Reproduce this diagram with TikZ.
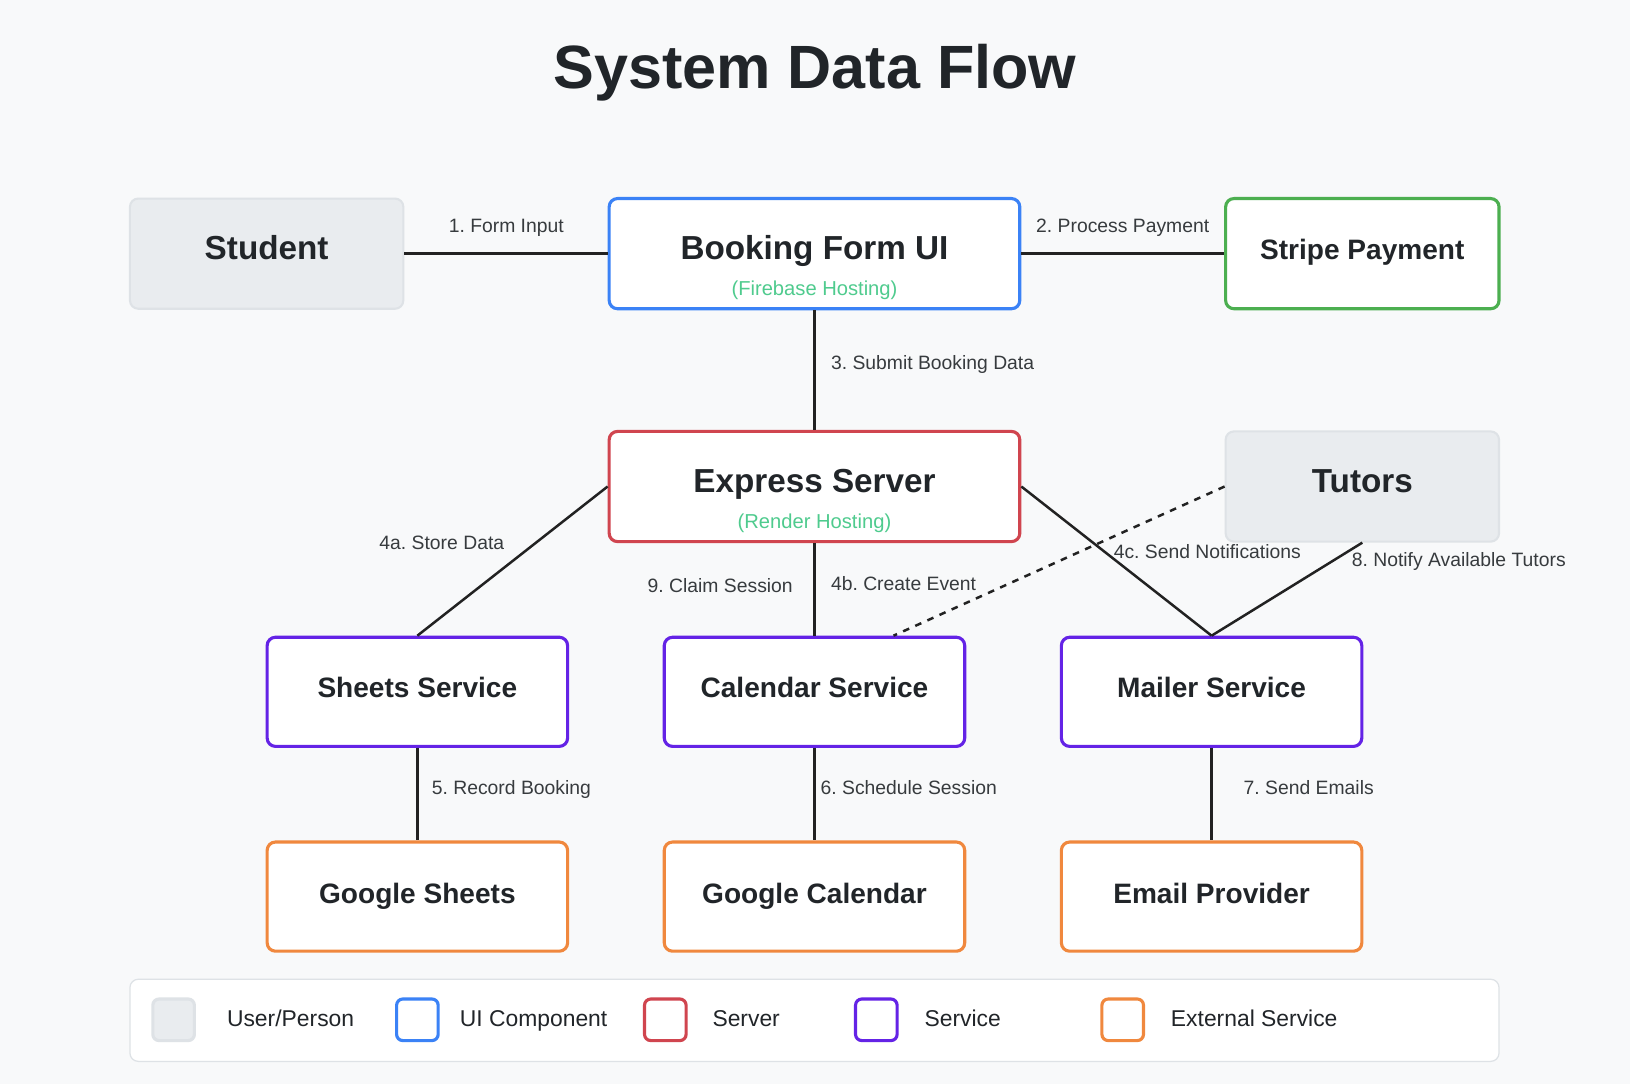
\documentclass[tikz,border=0pt]{standalone}
\usepackage{fontspec}
\setmainfont{Liberation Sans}
\usepackage{tikz}
\frenchspacing

\definecolor{bgcol}{HTML}{F8F9FA}
\definecolor{usrfill}{HTML}{E9ECEF}
\definecolor{usrline}{HTML}{DEE2E6}
\definecolor{uiblue}{HTML}{3B82F6}
\definecolor{paygreen}{HTML}{4CAF50}
\definecolor{srvred}{HTML}{D0454F}
\definecolor{svcpurple}{HTML}{6423E6}
\definecolor{extorange}{HTML}{F0883E}
\definecolor{hostgreen}{HTML}{4FCB8E}
\definecolor{txt}{HTML}{212529}
\definecolor{lnk}{HTML}{222222}

\begin{document}
\begin{tikzpicture}[x=0.5pt,y=-0.5pt,
  user/.style={rounded corners=4pt,fill=usrfill,draw=usrline,line width=1pt,minimum width=131.5pt,minimum height=53pt},
  ui/.style={rounded corners=4pt,fill=white,draw=uiblue,line width=1.5pt,minimum width=197.5pt,minimum height=53pt},
  srv/.style={rounded corners=4pt,fill=white,draw=srvred,line width=1.5pt,minimum width=197.5pt,minimum height=53pt},
  pay/.style={rounded corners=4pt,fill=white,draw=paygreen,line width=1.5pt,minimum width=131.5pt,minimum height=53pt},
  svc/.style={rounded corners=4pt,fill=white,draw=svcpurple,line width=1.5pt,minimum width=144.5pt,minimum height=52.5pt},
  ext/.style={rounded corners=4pt,fill=white,draw=extorange,line width=1.5pt,minimum width=144.5pt,minimum height=52.5pt},
  big/.style={font=\bfseries\fontsize{16}{19}\selectfont,text=txt,text height=11.5pt,text depth=0pt,inner sep=0pt},
  mid/.style={font=\bfseries\fontsize{13.5}{16}\selectfont,text=txt,text height=9.7pt,text depth=0pt,inner sep=0pt},
  host/.style={font=\fontsize{9.7}{12}\selectfont,text=hostgreen,text height=7pt,text depth=0pt,inner sep=0pt},
  lbl/.style={font=\fontsize{9.3}{11}\selectfont,text=txt!90,text height=6.7pt,text depth=0pt,inner sep=0pt},
  key/.style={font=\fontsize{11}{13}\selectfont,text=txt,text height=7.9pt,text depth=0pt,inner sep=0pt,anchor=west},
  swatch/.style={rounded corners=3pt,line width=1.5pt,minimum size=20pt,inner sep=0pt},
  link/.style={draw=lnk,line width=1.2pt}]

\useasboundingbox (0,0) rectangle (1568,1043);
\fill[bgcol] (0,0) rectangle (1568,1043);

\node[font=\bfseries\fontsize{29.4}{34}\selectfont,text=txt,text height=21.2pt,text depth=0pt,inner sep=0pt] (heading) at (784,64) {System Data Flow};

\node[user] (student) at (256.5,244) {};
\node[ui] (form) at (783.5,244) {};
\node[pay] (stripe) at (1310.5,244) {};
\node[srv] (express) at (783.5,468) {};
\node[user] (tutors) at (1310.5,468) {};
\node[svc] (sheets) at (401.5,665.5) {};
\node[svc] (cal) at (783.5,665.5) {};
\node[svc] (mailer) at (1165.5,665.5) {};
\node[ext] (gsheets) at (401.5,862.5) {};
\node[ext] (gcal) at (783.5,862.5) {};
\node[ext] (email) at (1165.5,862.5) {};

\node[big] (student-t) at (256.5,238) {Student};
\node[big] (form-t) at (783.5,238) {Booking Form UI};
\node[host] (form-h) at (783.5,277) {(Firebase Hosting)};
\node[mid] (stripe-t) at (1310.5,240) {Stripe Payment};
\node[big] (express-t) at (783.5,462) {Express Server};
\node[host] (express-h) at (783.5,501) {(Render Hosting)};
\node[big] (tutors-t) at (1310.5,462) {Tutors};
\node[mid] (sheets-t) at (401.5,661) {Sheets Service};
\node[mid] (cal-t) at (783.5,661) {Calendar Service};
\node[mid] (mailer-t) at (1165.5,661) {Mailer Service};
\node[mid] (gsheets-t) at (401.5,859) {Google Sheets};
\node[mid] (gcal-t) at (783.5,859) {Google Calendar};
\node[mid] (email-t) at (1165.5,859) {Email Provider};

\draw[link] (student) -- (form);
\draw[link] (form) -- (stripe);
\draw[link] (form) -- (express);
\draw[link] (express.west) -- (sheets.north);
\draw[link] (express) -- (cal);
\draw[link] (express.east) -- (mailer.north);
\draw[link,dash pattern=on 3.2pt off 3.2pt] (tutors.west) -- ([xshift=38pt]cal.north);
\draw[link] (tutors.south) -- (mailer.north);
\draw[link] (sheets) -- (gsheets);
\draw[link] (cal) -- (gcal);
\draw[link] (mailer) -- (email);

\node[lbl] (l1) at (487,217) {1. Form Input};
\node[lbl] (l2) at (1080,217) {2. Process Payment};
\node[lbl,anchor=west] (l3) at (799,349) {3. Submit Booking Data};
\node[lbl] (l4a) at (425,522) {4a. Store Data};
\node[lbl,anchor=east] (l9) at (763,563) {9. Claim Session};
\node[lbl,anchor=west] (l4b) at (799,561) {4b. Create Event};
\node[lbl,anchor=west] (l4c) at (1071,531) {4c. Send Notifications};
\node[lbl,anchor=west] (l8) at (1300,538) {8. Notify Available Tutors};
\node[lbl,anchor=west] (l5) at (415,758) {5. Record Booking};
\node[lbl,anchor=west] (l6) at (789,758) {6. Schedule Session};
\node[lbl,anchor=west] (l7) at (1196,758) {7. Send Emails};

\node[draw=usrline,fill=white,rounded corners=4pt,line width=0.6pt,minimum width=658.5pt,minimum height=39.5pt] (legend) at (783.5,981.5) {};
\node[swatch,fill=usrfill,draw=usrline] (k-user) at (167,981) {};
\node[swatch,fill=white,draw=uiblue] (k-ui) at (401.5,981) {};
\node[swatch,fill=white,draw=srvred] (k-srv) at (640,981) {};
\node[swatch,fill=white,draw=svcpurple] (k-svc) at (843,981) {};
\node[swatch,fill=white,draw=extorange] (k-ext) at (1080,981) {};
\node[key] (k-user-t) at (218,980) {User/Person};
\node[key] (k-ui-t) at (442,980) {UI Component};
\node[key] (k-srv-t) at (685,980) {Server};
\node[key] (k-svc-t) at (889,980) {Service};
\node[key] (k-ext-t) at (1126,980) {External Service};

\end{tikzpicture}
\end{document}
